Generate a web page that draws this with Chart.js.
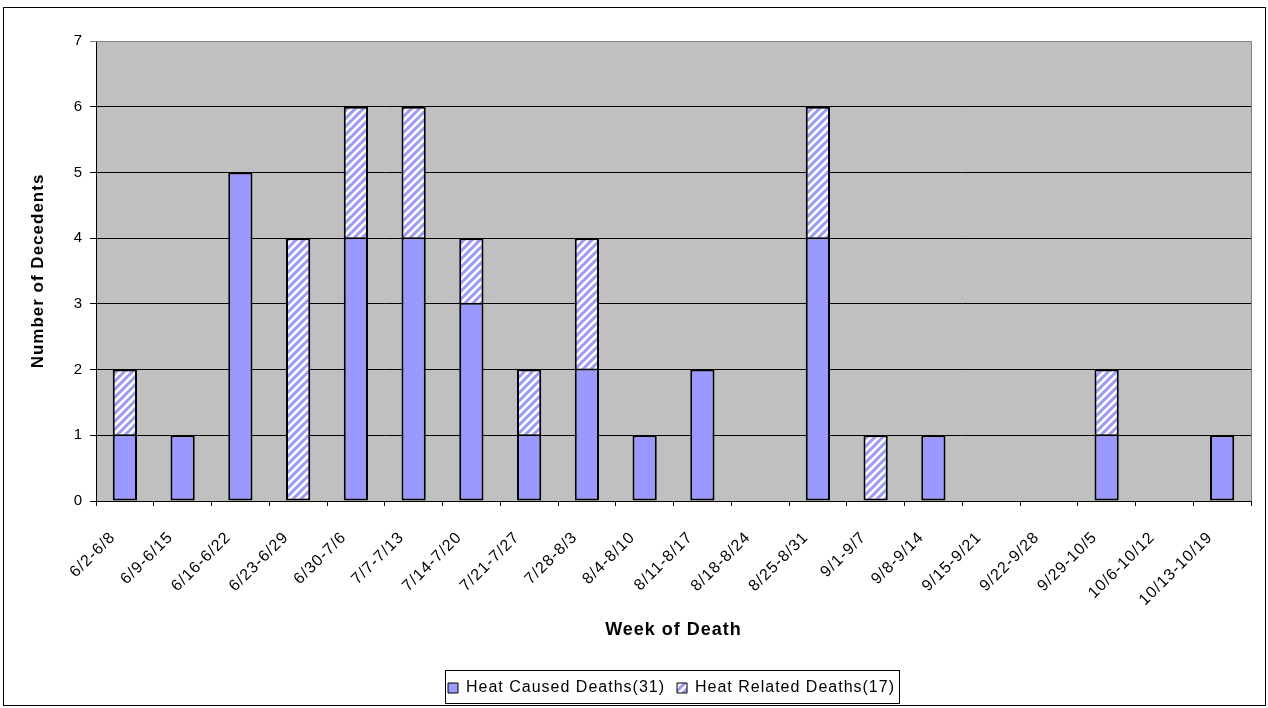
<!DOCTYPE html>
<html>
<head>
<meta charset="utf-8">
<script src="https://cdn.jsdelivr.net/npm/chart.js@4/dist/chart.umd.min.js"></script>
<style>
html,body{margin:0;padding:0;background:#fff;}
#wrap{width:1268px;height:708px;position:relative;}
</style>
</head>
<body>
<div id="wrap"><canvas id="c" width="1268" height="708"></canvas></div>
<script>
const categories = ["6/2-6/8","6/9-6/15","6/16-6/22","6/23-6/29","6/30-7/6","7/7-7/13","7/14-7/20","7/21-7/27","7/28-8/3","8/4-8/10","8/11-8/17","8/18-8/24","8/25-8/31","9/1-9/7","9/8-9/14","9/15-9/21","9/22-9/28","9/29-10/5","10/6-10/12","10/13-10/19"];
const heatCaused = [1,1,5,0,4,4,3,1,2,1,2,0,4,0,1,0,0,1,0,1];
const heatRelated = [1,0,0,4,2,2,1,1,2,0,0,0,2,1,0,0,0,1,0,0];
const seriesNames = ["Heat Caused Deaths(31)","Heat Related Deaths(17)"];
const yTicks = [0,1,2,3,4,5,6,7];

const FONT = "'Liberation Sans', Arial, sans-serif";
const BLUE = '#9999FF';

function makeHatch(){
  const s = 8;
  const pc = document.createElement('canvas');
  pc.width = s; pc.height = s;
  const g = pc.getContext('2d');
  g.fillStyle = '#ffffff';
  g.fillRect(0,0,s,s);
  g.strokeStyle = BLUE;
  g.lineWidth = 3;
  g.beginPath();
  g.moveTo(-s/2, s/2); g.lineTo(s/2, -s/2);
  g.moveTo(0, s); g.lineTo(s, 0);
  g.moveTo(s/2, s*1.5); g.lineTo(s*1.5, s/2);
  g.stroke();
  return document.getElementById('c').getContext('2d').createPattern(pc,'repeat');
}
const hatch = makeHatch();

const spacingPlugin = {
  id: 'spacing',
  beforeUpdate(chart){ chart.ctx.letterSpacing = '1px'; },
  beforeLayout(chart){ chart.ctx.letterSpacing = '1px'; },
  afterLayout(chart){
    // shift legend to the reference position
    const lg = chart.legend;
    const dx = 46;
    lg.left += dx; lg.right += dx;
    (lg.legendHitBoxes || []).forEach(h => { h.left += dx; });
  },
  beforeDraw(chart){ chart.ctx.letterSpacing = '1px'; }
};

const framePlugin = {
  id: 'frames',
  beforeDraw(chart){
    const {ctx, chartArea:a} = chart;
    ctx.save();
    ctx.fillStyle = '#fff';
    ctx.fillRect(0,0,chart.width,chart.height);
    ctx.fillStyle = '#C0C0C0';
    ctx.fillRect(a.left, a.top, a.right-a.left, a.bottom-a.top);
    ctx.restore();
  },
  afterDraw(chart){
    const {ctx, chartArea:a} = chart;
    ctx.save();
    ctx.strokeStyle = '#808080';
    ctx.lineWidth = 1;
    ctx.beginPath();
    ctx.moveTo(a.left, a.top+0.5); ctx.lineTo(a.right+0.5, a.top+0.5); ctx.lineTo(a.right+0.5, a.bottom);
    ctx.stroke();
    ctx.strokeStyle = '#000';
    ctx.strokeRect(3.5, 7.5, 1262, 698);
    const hb = chart.legend.legendHitBoxes;
    if (hb && hb.length){
      let l = Infinity, r = -Infinity, t = Infinity, b = -Infinity;
      hb.forEach(h => { l = Math.min(l,h.left); r = Math.max(r,h.left+h.width); t = Math.min(t,h.top); b = Math.max(b,h.top+h.height); });
      const cy = (t+b)/2;
      ctx.strokeRect(Math.round(l-3)+0.5, Math.round(cy-18)+0.5, Math.round(r-l+7), 33);
    }
    ctx.restore();
  }
};

new Chart(document.getElementById('c'), {
  type: 'bar',
  data: {
    labels: categories,
    datasets: [
      { label: seriesNames[0], data: heatCaused, backgroundColor: BLUE, borderColor: '#000',
        borderWidth: (c) => ({ left: 2, right: 2, bottom: 2, top: (heatRelated[c.dataIndex] > 0 ? 1 : 2) }),
        borderSkipped: false, barPercentage: 0.42, categoryPercentage: 1.0 },
      { label: seriesNames[1], data: heatRelated, backgroundColor: hatch, borderColor: '#000',
        borderWidth: (c) => ({ left: 2, right: 2, top: 2, bottom: (heatCaused[c.dataIndex] > 0 ? 1 : 2) }),
        borderSkipped: false, barPercentage: 0.42, categoryPercentage: 1.0 }
    ]
  },
  options: {
    responsive: false,
    animation: false,
    devicePixelRatio: 1,
    layout: { padding: { left: 0, right: 17, top: 41, bottom: 2 } },
    plugins: {
      tooltip: { enabled: false },
      legend: {
        position: 'bottom',
        labels: {
          font: { family: FONT, size: 16 },
          color: '#000',
          boxWidth: 10, boxHeight: 10,
          padding: 12,
          generateLabels(chart){
            return chart.data.datasets.map((d,i) => ({
              text: d.label, fillStyle: d.backgroundColor, strokeStyle: '#000', lineWidth: 1, datasetIndex: i, hidden: false
            }));
          }
        }
      }
    },
    scales: {
      x: {
        stacked: true,
        afterFit(s){ s.height = 167; },
        grid: { display: true, drawOnChartArea: false, drawTicks: true, tickLength: 5, color: '#000', offset: true },
        border: { display: true, color: '#000', width: 1 },
        ticks: { autoSkip: false, maxRotation: 45, minRotation: 45, padding: 22, labelOffset: -12, color: '#000', font: { family: FONT, size: 16 } },
        title: { display: true, text: 'Week of Death', color: '#000', font: { family: FONT, size: 18, weight: 'bold' }, padding: { top: 0, bottom: 27 } }
      },
      y: {
        stacked: true,
        min: 0, max: 7,
        afterFit(s){ s.width = 96; },
        afterBuildTicks(s){ s.ticks = yTicks.map(v => ({value: v})); },
        grid: { color: (c) => (c.tick && c.tick.value === 7) ? '#808080' : '#000', tickLength: 6, drawTicks: true },
        border: { display: true, color: '#000', width: 1 },
        ticks: { stepSize: 1, padding: 7, color: '#000', font: { family: FONT, size: 15 } },
        title: { display: true, text: 'Number of Decedents', color: '#000', font: { family: FONT, size: 17, weight: 'bold' }, padding: { top: 28, bottom: 0 } }
      }
    }
  },
  plugins: [spacingPlugin, framePlugin]
});
</script>
</body>
</html>
